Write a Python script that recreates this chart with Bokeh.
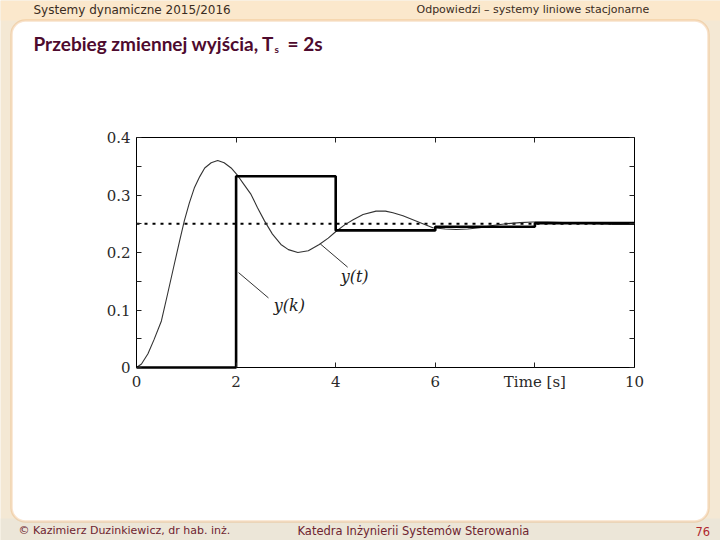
from bokeh.plotting import figure
from bokeh.models import LinearAxis, FixedTicker, Label, BoxAnnotation, Range1d
from bokeh.core.properties import value
from bokeh.embed import file_html
from bokeh.resources import INLINE

# ---------------- data ----------------
t_cont = [0, 0.1, 0.23, 0.35, 0.5, 0.63, 0.76, 0.86, 0.96, 1.06, 1.16, 1.27, 1.37, 1.5,
          1.63, 1.76, 1.9, 2.03, 2.16, 2.3, 2.43, 2.57, 2.73, 2.9, 3.05, 3.24, 3.45, 3.67,
          3.85, 4.01, 4.18, 4.35, 4.55, 4.81, 5.0, 5.15, 5.35, 5.55, 5.75, 5.95, 6.2, 6.42,
          6.65, 6.89, 7.15, 7.42, 7.7, 7.96, 8.25, 8.56, 8.9, 9.2, 9.55, 10.0]
y_cont = [0, 0.006, 0.024, 0.048, 0.081, 0.13, 0.18, 0.218, 0.255, 0.286, 0.312, 0.332,
          0.347, 0.356, 0.360, 0.356, 0.347, 0.334, 0.318, 0.301, 0.278, 0.255, 0.232,
          0.214, 0.205, 0.200, 0.203, 0.214, 0.225, 0.237, 0.248, 0.257, 0.266, 0.272,
          0.272, 0.269, 0.264, 0.257, 0.250, 0.243, 0.241, 0.240, 0.241, 0.243, 0.247,
          0.250, 0.252, 0.253, 0.253, 0.252, 0.251, 0.250, 0.249, 0.249]

k_times = [0, 2, 4, 6, 8, 10]
y_k = [0.0, 0.3325, 0.2384, 0.2447, 0.2511, 0.2511]

ref_x = [0, 10]
ref_y = [0.25, 0.25]

x_ticks = [0, 2, 4, 6, 8, 10]
x_tick_labels = ["0", "2", "4", "6", "Time [s]", "10"]
y_ticks = [0, 0.1, 0.2, 0.3, 0.4]
y_minor = [0.05, 0.15, 0.25, 0.35]
y_tick_labels = ["0", "0.1", "0.2", "0.3", "0.4"]

# annotation texts and leader lines (data coords)
ann_text = ["y(t)", "y(k)"]
ann_x = [4.38, 3.07]
ann_y = [0.158, 0.108]
lead_xs = [[3.69, 4.24], [2.05, 2.65]]
lead_ys = [[0.215, 0.1745], [0.165, 0.121]]

header_left = "Systemy dynamiczne 2015/2016"
header_right = "Odpowiedzi \u2013 systemy liniowe stacjonarne"
footer_left = "\u00a9 Kazimierz Duzinkiewicz, dr hab. in\u017c."
footer_mid = "Katedra In\u017cynierii System\u00f3w Sterowania"
footer_page = "76"
title_main = "Przebieg zmiennej wyj\u015bcia, T"
title_sub = "s"
title_end = "= 2s"

# ---------------- page geometry (pixels) ----------------
W, H = 720, 540
AX_L, AX_R, AX_T, AX_B = 136, 634, 137, 367      # chart box on the page
T0, T1, V0, V1 = 0, 10, 0, 0.4                    # chart data limits

px_per_t = (AX_R - AX_L) / (T1 - T0)
px_per_v = (AX_B - AX_T) / (V1 - V0)

p = figure(width=W, height=H, output_backend="svg", toolbar_location=None,
           x_range=Range1d(0, W), y_range=Range1d(H, 0),
           x_axis_type=None, y_axis_type=None,
           min_border_left=0, min_border_right=0, min_border_top=0, min_border_bottom=0)
p.outline_line_color = None
p.border_fill_color = "#F4E8D4"
p.background_fill_color = "#F4E8D4"
p.grid.visible = False

p.extra_x_ranges = {"t": Range1d(T0 - AX_L / px_per_t, T0 + (W - AX_L) / px_per_t)}
p.extra_y_ranges = {"v": Range1d(V0 - (H - AX_B) / px_per_v, V0 + AX_B / px_per_v)}

# ---------------- slide decoration ----------------
p.add_layout(BoxAnnotation(left=0, right=W, top=0, bottom=20, fill_color="#FBE8CC",
                           fill_alpha=1, line_color=None, level="image"))
p.add_layout(BoxAnnotation(left=0, right=W, top=H - 22, bottom=H, fill_color="#ECE6D8",
                           fill_alpha=1, line_color=None, level="image"))
p.add_layout(BoxAnnotation(left=11, right=708, top=20, bottom=521,
                           fill_color="white", fill_alpha=1.0,
                           line_color="#E8A052", line_width=2.5,
                           border_radius=14, level="image"))

hdr_font = "DejaVu Sans"
for txt, x, y, size, color in [
    (header_left, 33, 9, "12px", "#3a2c22"),
    (header_right, 416, 9, "11px", "#3a2c22"),
    (footer_left, 18, 530, "11px", "#6e2430"),
    (footer_mid, 297, 530, "11.5px", "#6e2430"),
    (footer_page, 695, 531, "11.5px", "#B0282E"),
]:
    p.add_layout(Label(x=x, y=y, text=txt, text_font=hdr_font, text_font_size=size,
                       text_color=color, text_baseline="middle", text_align="left"))

title_color = "#4E0A2E"
p.add_layout(Label(x=33, y=43, text=title_main, text_font="Lato", text_font_style="bold",
                   text_font_size="19px", text_color=title_color, text_baseline="middle"))
p.add_layout(Label(x=274, y=48, text=title_sub, text_font="Lato", text_font_style="bold",
                   text_font_size="10px", text_color=title_color, text_baseline="middle"))
p.add_layout(Label(x=287, y=43, text=title_end, text_font="Lato", text_font_style="bold",
                   text_font_size="19px", text_color=title_color, text_baseline="middle"))

# ---------------- axes (box with inward ticks) ----------------
serif = "DejaVu Serif"


def make_axis(side, loc, bounds, ticker, overrides=None):
    ax = LinearAxis(x_range_name="t", y_range_name="v", fixed_location=loc,
                    bounds=bounds, ticker=ticker)
    if overrides:
        ax.major_label_overrides = overrides
    ax.axis_line_color = "black"
    ax.axis_line_width = 1
    ax.major_tick_in = 5
    ax.major_tick_out = 0
    ax.minor_tick_in = 5
    ax.minor_tick_out = 0
    ax.major_tick_line_color = "#222222"
    ax.minor_tick_line_color = "#222222"
    ax.major_label_text_font = serif
    ax.major_label_text_color = "#2a2a2a"
    ax.major_label_text_font_size = "15px"
    ax.major_label_standoff = 6 if side == "left" else 5
    p.add_layout(ax, side)
    return ax


make_axis("below", V0, (T0, T1), FixedTicker(ticks=x_ticks),
          dict(zip(x_ticks, x_tick_labels)))
make_axis("above", V1, (T0, T1), FixedTicker(ticks=[], minor_ticks=x_ticks))
make_axis("left", T0, (V0, V1), FixedTicker(ticks=y_ticks, minor_ticks=y_minor),
          dict(zip(y_ticks, y_tick_labels)))
make_axis("right", T1, (V0, V1), FixedTicker(ticks=[], minor_ticks=y_ticks + y_minor))

# ---------------- chart ----------------
p.line(ref_x, ref_y, line_color="black", line_width=2, line_dash="3 5",
       x_range_name="t", y_range_name="v")
p.line(t_cont, y_cont, line_color="#333333", line_width=1.1,
       x_range_name="t", y_range_name="v")
p.step(k_times, y_k, mode="after", line_color="black", line_width=2.6,
       x_range_name="t", y_range_name="v")
p.multi_line(lead_xs, lead_ys, line_color="#333333", line_width=1,
             x_range_name="t", y_range_name="v")
p.text(ann_x, ann_y, text=ann_text, text_font=value(serif), text_font_style="italic",
       text_font_size="16px", text_color="#222222", text_align="center",
       text_baseline="middle", x_range_name="t", y_range_name="v")

open("out.html", "w").write(file_html(p, INLINE))
